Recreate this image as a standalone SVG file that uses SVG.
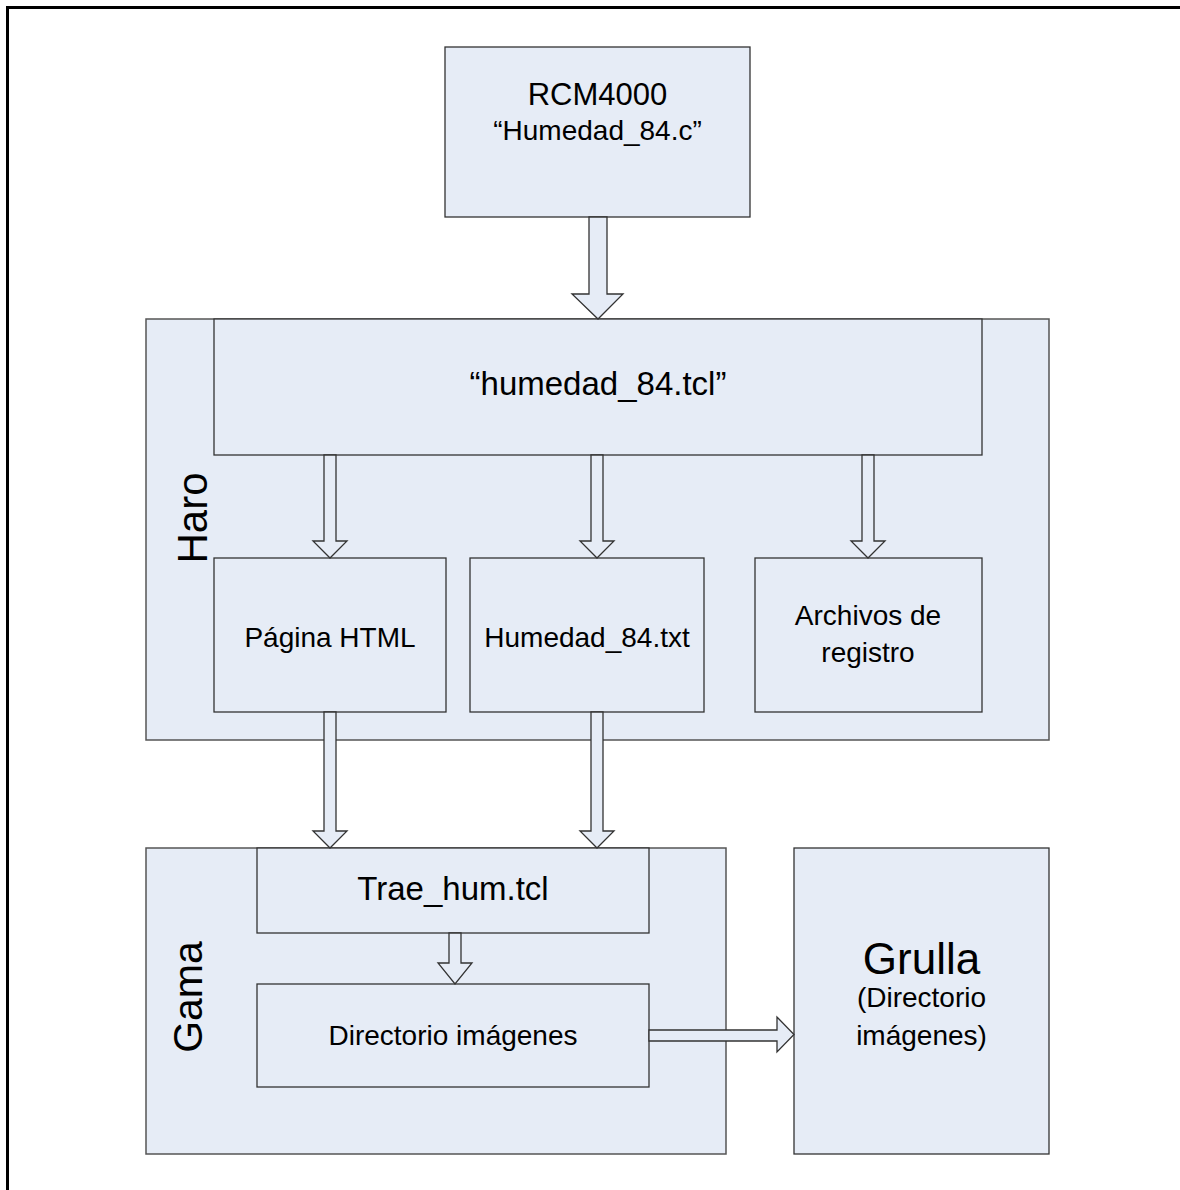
<svg xmlns="http://www.w3.org/2000/svg" width="1180" height="1190" viewBox="0 0 1180 1190">
<style>
.box{fill:#E6ECF6;stroke:#333;stroke-width:1.3}
.cont{fill:#E6ECF6;stroke:#555;stroke-width:1.5}
.arr{fill:#E6ECF6;stroke:#333;stroke-width:1.3;stroke-linejoin:miter}
.t{font-family:"Liberation Sans",Arial,sans-serif;fill:#000;text-anchor:middle}
.frame{stroke:#000;stroke-width:3;fill:none}
</style>
<rect width="1180" height="1190" fill="#fff"/>
<path class="frame" d="M7.5 1190 V7.5 H1180"/>

<g id="haro">
<rect class="cont" x="146" y="319" width="903" height="421"/>
<text class="t" font-size="42" transform="translate(207,518) rotate(-90)">Haro</text>
</g>
<g id="gama">
<rect class="cont" x="146" y="848" width="580" height="306"/>
<text class="t" font-size="41" transform="translate(202,997) rotate(-90)">Gama</text>
</g>
<g id="rcm4000">
<rect class="box" x="445" y="47" width="305" height="170"/>
<text class="t" font-size="31" x="597.5" y="105">RCM4000</text>
<text class="t" font-size="28" x="597.5" y="140">“Humedad_84.c”</text>
</g>
<g id="humedad_tcl">
<rect class="box" x="214" y="319" width="768" height="136"/>
<text class="t" font-size="33" x="598" y="395">“humedad_84.tcl”</text>
</g>
<g id="pagina_html">
<rect class="box" x="214" y="558" width="232" height="154"/>
<text class="t" font-size="28" x="330" y="647">Página HTML</text>
</g>
<g id="humedad_txt">
<rect class="box" x="470" y="558" width="234" height="154"/>
<text class="t" font-size="28" x="587" y="647">Humedad_84.txt</text>
</g>
<g id="archivos">
<rect class="box" x="755" y="558" width="227" height="154"/>
<text class="t" font-size="28" x="868" y="625">Archivos de</text>
<text class="t" font-size="28" x="868" y="662">registro</text>
</g>
<g id="trae_hum">
<rect class="box" x="257" y="848" width="392" height="85"/>
<text class="t" font-size="33" x="453" y="900">Trae_hum.tcl</text>
</g>
<g id="directorio">
<rect class="box" x="257" y="984" width="392" height="103"/>
<text class="t" font-size="28" x="453" y="1045">Directorio imágenes</text>
</g>
<g id="grulla">
<rect class="box" x="794" y="848" width="255" height="306"/>
<text class="t" font-size="44" x="921.5" y="974">Grulla</text>
<text class="t" font-size="28" x="921.5" y="1007">(Directorio</text>
<text class="t" font-size="28" x="921.5" y="1045">imágenes)</text>
</g>

<g id="connectors">
<path class="arr" d="M589 217 H607 V294 H623 L598 319 L572 294 H589 Z"/>
<path class="arr" d="M324 455 H336 V541 H347 L330 558 L313 541 H324 Z"/>
<path class="arr" d="M591 455 H603 V541 H614 L597 558 L580 541 H591 Z"/>
<path class="arr" d="M862 455 H874 V541 H885 L868 558 L851 541 H862 Z"/>
<path class="arr" d="M324 712 H336 V831 H347 L330 848 L313 831 H324 Z"/>
<path class="arr" d="M591 712 H603 V831 H614 L597 848 L580 831 H591 Z"/>
<path class="arr" d="M449 933 H461 V963 H472 L455 984 L438 963 H449 Z"/>
<path class="arr" d="M649 1030 H777 V1017 L794 1034.5 L777 1052 V1041 H649 Z"/>
</g>
</svg>
